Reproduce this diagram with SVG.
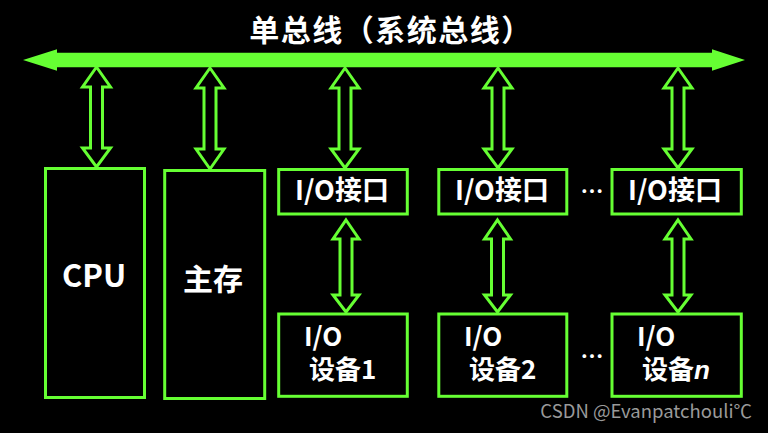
<svg xmlns="http://www.w3.org/2000/svg" width="768" height="433" viewBox="0 0 768 433">
  <style>
    .box { fill: #000; stroke: #66FF33; stroke-width: 3; }
    .arr { fill: none; stroke: #66FF33; stroke-width: 3; stroke-linejoin: miter; }
    .t { fill: #fff; font-family: "Noto Sans CJK SC", "Liberation Sans", sans-serif; font-weight: bold; }
    .dots { fill: #fff; font-family: "Noto Sans CJK SC", sans-serif; font-size: 23px; font-weight: bold; }
  </style>
  <rect width="768" height="433" fill="#000"/>
  <g id="title">
    <text class="t" x="391" y="41" font-size="30" text-anchor="middle" letter-spacing="1.5">单总线（系统总线）</text>
  </g>
  <g id="bus">
    <polygon points="23,60 57,49.3 57,52.7 712,52.7 712,49.3 745,60 712,70.7 712,67.3 57,67.3 57,70.7" fill="#66FF33"/>
  </g>
  <g id="connectors">
    <path class="arr" d="M96.5,67 L110.5,87 L102.5,87 L102.5,148 L110.5,148 L96.5,167 L82.5,148 L90.5,148 L90.5,87 L82.5,87 Z"/>
    <path class="arr" d="M210,68 L224,88 L216,88 L216,149 L224,149 L210,169 L196,149 L204,149 L204,88 L196,88 Z"/>
    <path class="arr" d="M345,68 L359,88 L351,88 L351,149 L359,149 L345,168 L331,149 L339,149 L339,88 L331,88 Z"/>
    <path class="arr" d="M498,68 L512,88 L504,88 L504,149 L512,149 L498,168 L484,149 L492,149 L492,88 L484,88 Z"/>
    <path class="arr" d="M678,68 L692,88 L684,88 L684,149 L692,149 L678,168 L664,149 L672,149 L672,88 L664,88 Z"/>
    <path class="arr" d="M346,220 L359,239 L352,239 L352,295 L359,295 L346,312 L333,295 L340,295 L340,239 L333,239 Z"/>
    <path class="arr" d="M497.5,220 L510.5,239 L503.5,239 L503.5,295 L510.5,295 L497.5,312 L484.5,295 L491.5,295 L491.5,239 L484.5,239 Z"/>
    <path class="arr" d="M678,220 L691,239 L684,239 L684,295 L691,295 L678,312 L665,295 L672,295 L672,239 L665,239 Z"/>
  </g>
  <g id="cpu">
    <rect class="box" x="45.5" y="168.5" width="99" height="229"/>
    <text class="t" x="94" y="287" font-size="31" text-anchor="middle">CPU</text>
  </g>
  <g id="memory">
    <rect class="box" x="164.7" y="170.5" width="100" height="228"/>
    <text class="t" x="213" y="290" font-size="30" text-anchor="middle">主存</text>
  </g>
  <g id="io-if-1">
    <rect class="box" x="278.7" y="169.5" width="128.6" height="44.5"/>
    <text class="t" x="342" y="200" font-size="27" text-anchor="middle">I/O接口</text>
  </g>
  <g id="io-if-2">
    <rect class="box" x="438.8" y="169.5" width="128" height="44.5"/>
    <text class="t" x="502" y="200" font-size="27" text-anchor="middle">I/O接口</text>
  </g>
  <g id="io-if-n">
    <rect class="box" x="612" y="169.5" width="129.3" height="44.5"/>
    <text class="t" x="675" y="200" font-size="27" text-anchor="middle">I/O接口</text>
  </g>
  <g id="dots-1">
    <text class="dots" x="592" y="200" text-anchor="middle">⋯</text>
  </g>
  <g id="io-dev-1">
    <rect class="box" x="278.7" y="314" width="128.6" height="82.3"/>
    <text class="t" x="304" y="346" font-size="26">I/O</text>
    <text class="t" x="309" y="379" font-size="26">设备1</text>
  </g>
  <g id="io-dev-2">
    <rect class="box" x="438.8" y="314" width="128" height="82.3"/>
    <text class="t" x="464" y="346" font-size="26">I/O</text>
    <text class="t" x="469" y="379" font-size="26">设备2</text>
  </g>
  <g id="io-dev-n">
    <rect class="box" x="612" y="314" width="129.3" height="82.3"/>
    <text class="t" x="637" y="346" font-size="26">I/O</text>
    <text class="t" x="642" y="379" font-size="26">设备<tspan font-style="italic" font-family="Liberation Sans, sans-serif">n</tspan></text>
  </g>
  <g id="dots-2">
    <text class="dots" x="592" y="365" text-anchor="middle">⋯</text>
  </g>
  <g id="watermark">
    <text x="752" y="418" font-size="18.5" text-anchor="end" fill="#9a9a9a" font-family="Noto Sans CJK SC, Liberation Sans, sans-serif">CSDN @Evanpatchouli℃</text>
  </g>
</svg>
